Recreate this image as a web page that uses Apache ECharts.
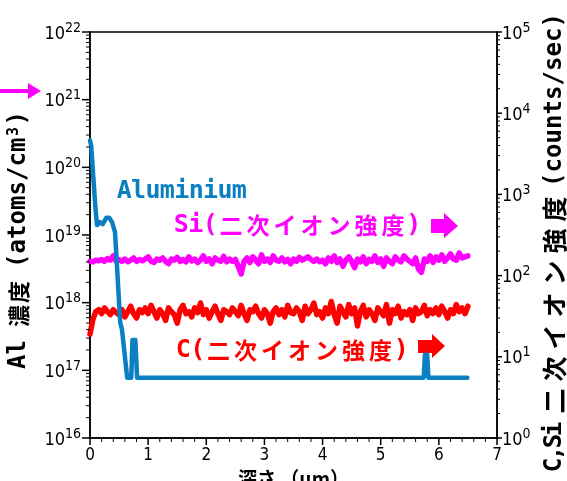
<!DOCTYPE html>
<html><head><meta charset="utf-8">
<script src="https://cdn.jsdelivr.net/npm/echarts@6/dist/echarts.min.js"></script>
<style>html,body{margin:0;padding:0;background:#fff}#c{width:567px;height:481px}</style>
</head><body><div id="c"></div>
<script>
// ---- data ----
const depth = [0,0.05,0.1,0.15,0.2,0.25,0.3,0.35,0.4,0.45,
0.5,0.55,0.6,0.65,0.7,0.75,0.8,0.85,0.9,0.95,
1,1.05,1.1,1.15,1.2,1.25,1.3,1.35,1.4,1.45,
1.5,1.55,1.6,1.65,1.7,1.75,1.8,1.85,1.9,1.95,
2,2.05,2.1,2.15,2.2,2.25,2.3,2.35,2.4,2.45,
2.5,2.55,2.6,2.65,2.7,2.75,2.8,2.85,2.9,2.95,
3,3.05,3.1,3.15,3.2,3.25,3.3,3.35,3.4,3.45,
3.5,3.55,3.6,3.65,3.7,3.75,3.8,3.85,3.9,3.95,
4,4.05,4.1,4.15,4.2,4.25,4.3,4.35,4.4,4.45,
4.5,4.55,4.6,4.65,4.7,4.75,4.8,4.85,4.9,4.95,
5,5.05,5.1,5.15,5.2,5.25,5.3,5.35,5.4,5.45,
5.5,5.55,5.6,5.65,5.7,5.75,5.8,5.85,5.9,5.95,
6,6.05,6.1,6.15,6.2,6.25,6.3,6.35,6.4,6.45,
6.5];
const siCounts = [150,148,155,152,158,150,162,155,175,150,
158,150,160,148,155,165,150,158,152,160,
170,150,145,160,155,165,150,140,160,155,
168,150,158,148,170,152,160,145,155,175,
150,160,140,165,155,150,172,148,160,150,
158,130,105,150,165,145,170,155,140,180,
150,160,145,175,155,150,165,148,158,140,
160,150,168,155,162,170,158,150,160,148,
155,140,165,150,175,145,160,130,155,170,
150,125,160,148,170,140,158,150,175,145,
160,130,165,150,140,170,155,148,175,160,
150,140,165,120,110,160,150,175,145,170,
155,180,150,165,185,160,155,190,165,170,
175];
const cCounts = [19,29,36,38,34,40,36,33,38,35,
33,38,31,36,42,34,30,38,35,40,
34,43,36,30,38,34,28,40,36,33,
26,38,43,34,36,31,40,35,46,33,
38,30,36,42,34,28,38,36,33,40,
36,32,43,34,28,38,36,42,34,30,
38,34,26,36,40,33,38,31,43,35,
34,40,36,28,42,34,38,46,33,36,
30,40,34,48,33,26,42,36,31,44,
34,40,24,36,43,31,38,34,28,40,
36,32,44,26,38,34,42,30,36,33,
38,28,40,34,36,43,32,38,34,40,
33,42,36,30,38,34,44,36,40,34,
42];
const alDepth = [0,0.02,0.09,0.12,0.17,0.22,0.28,0.33,0.38,0.43,0.46,0.52,0.55,0.60,0.64,0.71,0.73,0.78,0.81,5.74,5.76,5.78,5.80,5.82,6.49];
const alConc = [2.5e20,2.1e20,2.75e19,1.4e19,1.55e19,1.45e19,1.8e19,1.8e19,1.55e19,1.1e19,4e18,5.1e17,4e17,1.6e17,7.8e16,7.8e16,2.8e17,2.8e17,7.8e16,7.8e16,1.7e17,1.8e17,1.7e17,7.8e16,7.8e16];
const xTicks = [0,1,2,3,4,5,6,7];
const xMinorSteps = [0.2,0.4,0.6,0.8];
const leftExponents = [16,17,18,19,20,21,22];
const rightExponents = [0,1,2,3,4,5];
const minorMultipliers = [2,3,4,5,6,7,8,9];

// ---- helpers ----
const NUM = "'Liberation Sans Narrow','DejaVu Sans Condensed',sans-serif";
const MONO = "'DejaVu Sans Mono','Noto Sans CJK JP',monospace";
const CJK = "'Noto Sans CJK JP',sans-serif";
function tokens(str, hk, fk) {
  return Array.from(str).map(ch => '{' + (ch.charCodeAt(0) > 0x2000 ? fk : hk) + '|' + ch + '}').join('');
}
function minorVals(exps) {
  const out = [];
  exps.slice(0, -1).forEach(e => minorMultipliers.forEach(m => out.push(m * Math.pow(10, e))));
  return out;
}
const majorVals = exps => exps.map(e => Math.pow(10, e));

const supLabel = v => '{b|10}{s|' + Math.round(Math.log10(v)) + '}';
const labelRich = {
  b: {fontSize: 18, fontFamily: NUM, color: '#000', lineHeight: 22, verticalAlign: 'bottom'},
  s: {fontSize: 14, fontFamily: NUM, color: '#000', lineHeight: 14, padding: [0, 0, 14, 0], verticalAlign: 'top'}
};

const leftName = tokens('Al', 'h', 'f') + '{sp| }' + tokens('濃度', 'h', 'f') + '{sp| }' +
  tokens('(atoms/cm', 'h', 'f') + '{sup|3}' + tokens(')', 'h', 'f');
const rightName = tokens('C,Si', 'c', 'f') + '{sp| }' + tokens('二次イオン強度', 'h', 'f') + '{sp| }' +
  tokens('(counts/sec)', 'h', 'f');

const BLUE = '#0a7fc2';
const annTok = (color, hw, fw) => ({
  h: {width: hw, align: 'center', fontSize: 25, fontWeight: 'bold', fontFamily: MONO, fill: color},
  f: {width: fw, align: 'center', fontSize: 23, fontWeight: 'bold', fontFamily: CJK, fill: color}
});
const AX = {color: '#000', width: 1.5};

const chart = echarts.init(document.getElementById('c'), null, {renderer: 'canvas'});
chart.setOption({
  animation: false,
  backgroundColor: '#fff',
  grid: {left: 90, right: 70, top: 32, bottom: 43, containLabel: false, outerBoundsMode: 'none',
    show: true, borderColor: '#000', borderWidth: 1.5, backgroundColor: 'transparent'},
  xAxis: {
    type: 'value', min: 0, max: 7, interval: 1, position: 'bottom',
    axisLine: {show: true, onZero: false, lineStyle: AX},
    axisTick: {show: false},
    splitLine: {show: false},
    axisLabel: {fontSize: 17, fontFamily: NUM, color: '#000', margin: 9,
      formatter: v => xTicks.includes(v) ? String(v) : ''},
    name: '深さ （μm）', nameLocation: 'middle', nameGap: 27,
    nameTextStyle: {fontSize: 19, fontWeight: 'bold', fontFamily: CJK, color: '#000'}
  },
  yAxis: [{
    type: 'log', logBase: 10, min: Math.pow(10, leftExponents[0]), max: Math.pow(10, leftExponents[leftExponents.length - 1]),
    splitNumber: 6, position: 'left',
    axisLine: {show: true, onZero: false, lineStyle: AX},
    axisTick: {show: false},
    splitLine: {show: false},
    axisLabel: {margin: 9, formatter: supLabel, rich: labelRich},
    name: leftName, nameLocation: 'middle', nameGap: 58, nameRotate: 90,
    nameTextStyle: {
      padding: [0, 10, 0, 0],
      rich: {
        h: {width: 14.5, align: 'center', fontSize: 24, fontWeight: 'bold', fontFamily: MONO, color: '#000'},
        f: {width: 24, align: 'center', fontSize: 22, fontWeight: 'bold', fontFamily: CJK, color: '#000'},
        sp: {width: 12, fontSize: 20},
        sup: {width: 12, align: 'center', fontSize: 15, fontWeight: 'bold', fontFamily: MONO, color: '#000', lineHeight: 14, padding: [0, 0, 12, 0], verticalAlign: 'top'}
      }
    }
  }, {
    type: 'log', logBase: 10, min: Math.pow(10, rightExponents[0]), max: Math.pow(10, rightExponents[rightExponents.length - 1]),
    splitNumber: 5, position: 'right',
    axisLine: {show: true, onZero: false, lineStyle: AX},
    axisTick: {show: false},
    splitLine: {show: false},
    axisLabel: {margin: 5, formatter: supLabel, rich: labelRich},
    name: rightName, nameLocation: 'middle', nameGap: 45, nameRotate: 90,
    nameTextStyle: {
      padding: [0, 14, 0, 0],
      rich: {
        h: {width: 14.5, align: 'center', fontSize: 24, fontWeight: 'bold', fontFamily: MONO, color: '#000'},
        c: {width: 12, align: 'center', fontSize: 24, fontWeight: 'bold', fontFamily: MONO, color: '#000'},
        f: {width: 32, align: 'center', fontSize: 25, fontWeight: 'bold', fontFamily: CJK, color: '#000'},
        sp: {width: 6, fontSize: 20}
      }
    }
  }],
  series: [
    {name: 'Si', type: 'line', xAxisIndex: 0, yAxisIndex: 1, showSymbol: false, z: 2,
      data: depth.map((d, i) => [d, siCounts[i]]),
      lineStyle: {color: '#ff00ff', width: 5.5, join: 'round', cap: 'round'}},
    {name: 'C', type: 'line', xAxisIndex: 0, yAxisIndex: 1, showSymbol: false, z: 2,
      data: depth.map((d, i) => [d, cCounts[i]]),
      lineStyle: {color: '#ff0000', width: 5.5, join: 'round', cap: 'round'}},
    {name: 'Aluminium', type: 'line', xAxisIndex: 0, yAxisIndex: 0, showSymbol: false, z: 3,
      data: alDepth.map((d, i) => [d, alConc[i]]),
      lineStyle: {color: BLUE, width: 4.5, join: 'round', cap: 'round'}}
  ]
});

// ticks (major and minor), outward, placed through the library's own axis scales
const tickEls = [];
function tl(x1, y1, x2, y2, w) {
  tickEls.push({type: 'line', z: 50, shape: {x1: x1, y1: y1, x2: x2, y2: y2}, style: {stroke: '#000', lineWidth: w}});
}
function yTicks(yIdx, xVal, vals, len, w) {
  vals.forEach(v => {
    const p = chart.convertToPixel({xAxisIndex: 0, yAxisIndex: yIdx}, [xVal, v]);
    if (p && isFinite(p[0]) && isFinite(p[1])) tl(p[0], p[1], p[0] + len, p[1], w);
  });
}
yTicks(0, 0, majorVals(leftExponents), -8, 1.5);
yTicks(0, 0, minorVals(leftExponents), -4, 1);
yTicks(1, 7, majorVals(rightExponents), 5, 1.5);
yTicks(1, 7, minorVals(rightExponents), 3, 1);
xTicks.forEach(t => {
  const p = chart.convertToPixel({xAxisIndex: 0, yAxisIndex: 0}, [t, Math.pow(10, leftExponents[0])]);
  if (p && isFinite(p[0])) tl(p[0], p[1], p[0], p[1] + 7, 1.5);
  if (t < xTicks[xTicks.length - 1]) xMinorSteps.forEach(s => {
    const q = chart.convertToPixel({xAxisIndex: 0, yAxisIndex: 0}, [t + s, Math.pow(10, leftExponents[0])]);
    if (q && isFinite(q[0])) tl(q[0], q[1], q[0], q[1] + 4, 1);
  });
});

const annotations = [
  {type: 'text', x: 117, y: 191, style: {text: tokens('Aluminium', 'h', 'f'), rich: annTok(BLUE, 14.4, 27),
    align: 'left', verticalAlign: 'middle', textAlign: 'left', textVerticalAlign: 'middle', fill: BLUE}},
  {type: 'text', x: 174, y: 225, style: {text: tokens('Si(二次イオン強度)', 'h', 'f'), rich: annTok('#ff00ff', 14.5, 27),
    align: 'left', verticalAlign: 'middle', textAlign: 'left', textVerticalAlign: 'middle', fill: '#ff00ff'}},
  {type: 'text', x: 176, y: 350, style: {text: tokens('C(二次イオン強度)', 'h', 'f'), rich: annTok('#ff0000', 14.5, 27),
    align: 'left', verticalAlign: 'middle', textAlign: 'left', textVerticalAlign: 'middle', fill: '#ff0000'}},
  {type: 'polygon', shape: {points: [[431, 219], [444, 219], [444, 213], [458, 226], [444, 238], [444, 233], [431, 233]]}, style: {fill: '#ff00ff'}},
  {type: 'polygon', shape: {points: [[418, 340], [432, 340], [432, 334], [445, 346], [432, 358], [432, 353], [418, 353]]}, style: {fill: '#ff0000'}},
  {type: 'polygon', shape: {points: [[0, 89], [28, 89], [28, 83], [41, 91], [28, 99], [28, 93], [0, 93]]}, style: {fill: '#ff00ff'}}
];
chart.setOption({graphic: {elements: annotations.concat(tickEls)}});
</script></body></html>
